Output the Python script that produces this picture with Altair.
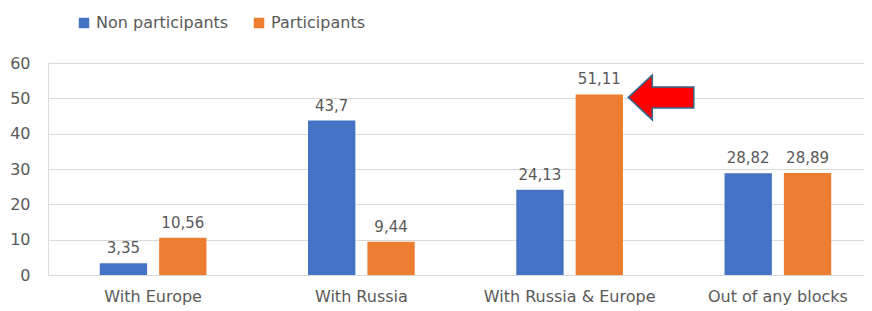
import altair as alt
import pandas as pd

categories = ["With Europe", "With Russia", "With Russia & Europe", "Out of any blocks"]
groups = ["Non participants", "Participants"]
non_participants = [3.35, 43.7, 24.13, 28.82]
participants = [10.56, 9.44, 51.11, 28.89]
non_labels = ["3,35", "43,7", "24,13", "28,82"]
part_labels = ["10,56", "9,44", "51,11", "28,89"]
colors = ["#4472C4", "#ED7D31"]

rows = []
for i, c in enumerate(categories):
    rows.append({"category": c, "group": groups[0], "value": non_participants[i], "label": non_labels[i]})
    rows.append({"category": c, "group": groups[1], "value": participants[i], "label": part_labels[i]})
df = pd.DataFrame(rows)
highlight = df[df["value"] == df["value"].max()]

FONT = "DejaVu Sans"
GREY = "#595959"

x = alt.X("category:N", sort=categories, title=None,
          scale=alt.Scale(range=[1, 834], paddingInner=0, paddingOuter=0),
          axis=alt.Axis(labelAngle=0, domain=False, ticks=False, labelPadding=13,
                        labelFontSize=16, labelColor=GREY, labelFont=FONT))
xo = alt.XOffset("group:N", sort=groups,
                 scale=alt.Scale(paddingInner=0.203, paddingOuter=0.855))
y = alt.Y("value:Q", title=None,
          scale=alt.Scale(domain=[0, 60], nice=False),
          axis=alt.Axis(values=[0, 10, 20, 30, 40, 50, 60], domain=False, ticks=False,
                        labelPadding=18, labelFontSize=16, labelColor=GREY, labelFont=FONT,
                        gridColor="#D9D9D9", gridWidth=1))

base = alt.Chart(df)

bars = base.mark_bar().encode(
    x=x, xOffset=xo, y=y,
    color=alt.Color("group:N", sort=groups,
                    scale=alt.Scale(domain=groups, range=colors),
                    legend=alt.Legend(title=None, orient="none", direction="horizontal",
                                      legendX=28, legendY=-48, symbolType="square",
                                      symbolSize=110, symbolStrokeWidth=0,
                                      labelFontSize=16, labelColor=GREY, labelFont=FONT,
                                      columnPadding=22, labelOffset=4)),
)

labels = base.mark_text(baseline="bottom", dy=-7, fontSize=15, font=FONT, color=GREY).encode(
    x=x, xOffset=xo, y=y, text="label:N",
)

arrow_path = ("M 2.9 0.3 L 5.3 -1.95 L 5.3 -0.75 L 9.45 -0.75 L 9.45 1.35 "
              "L 5.3 1.35 L 5.3 2.55 Z")
arrow = alt.Chart(highlight).mark_point(
    shape=arrow_path, size=400, filled=True, fill="#FF0000", fillOpacity=1,
    stroke="#2F6A8F", strokeWidth=1.5, opacity=1,
).encode(
    x=x, xOffset=xo, y=y,
)

chart = alt.layer(bars, labels, arrow).properties(
    width=816, height=212,
    autosize=alt.AutoSizeParams(type="none"),
    padding={"left": 40, "top": 55, "right": 0, "bottom": 36},
).configure_view(stroke=None).configure(background="white")

chart.save("out.html", embed_options={"renderer": "svg", "actions": False})
